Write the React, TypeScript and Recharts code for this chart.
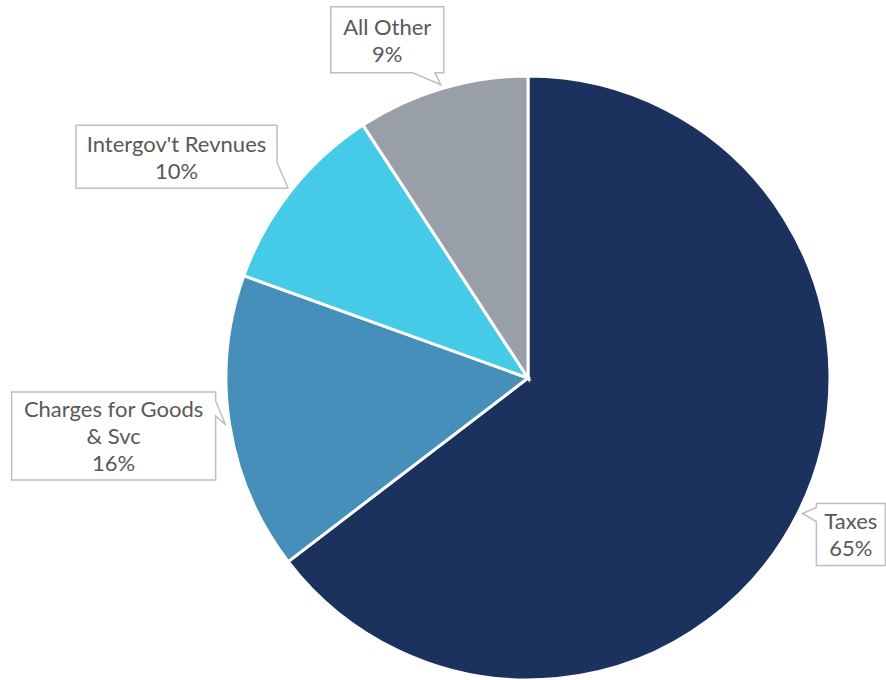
import React from "react";
import { PieChart, Pie, Cell } from "recharts";

const categories = ["Taxes", "Charges for Goods & Svc", "Intergov't Revnues", "All Other"];
const shares = [64.6, 15.9, 10.3, 9.2];
const labelLines = [["Taxes"], ["Charges for Goods", "& Svc"], ["Intergov't Revnues"], ["All Other"]];
const colors = ["#1b315e", "#458fba", "#45cae8", "#989fa9"];

const data = categories.map((name, i) => ({ name, value: shares[i] }));

// callout box placement relative to the tail tip, and where the tail meets the box
type Callout = { dx: number; dy: number; w: number; h: number; side: "left" | "right" | "bottom"; a: number; b: number };
const callouts: Callout[] = [
  { dx: 14, dy: -10, w: 69, h: 62, side: "left", a: 4, b: 18 },
  { dx: -214, dy: -33, w: 204, h: 88, side: "right", a: 9, b: 24 },
  { dx: -212, dy: -63, w: 201, h: 63, side: "right", a: 37, b: 63 },
  { dx: -110, dy: -78, w: 113, h: 66, side: "bottom", a: 82, b: 104 },
];

const RAD = Math.PI / 180;

function calloutPath(x: number, y: number, w: number, h: number, c: Callout, tx: number, ty: number) {
  const pts: [number, number][] = [[x, y], [x + w, y]];
  if (c.side === "right") {
    pts.push([x + w, y + c.a], [tx, ty], [x + w, y + c.b]);
  }
  pts.push([x + w, y + h]);
  if (c.side === "bottom") {
    pts.push([x + c.b, y + h], [tx, ty], [x + c.a, y + h]);
  }
  pts.push([x, y + h]);
  if (c.side === "left") {
    pts.push([x, y + c.b], [tx, ty], [x, y + c.a]);
  }
  return "M" + pts.map((p) => `${p[0]},${p[1]}`).join("L") + "Z";
}

const renderLabel = (props: any) => {
  const { cx, cy, midAngle, outerRadius, index } = props;
  const r = outerRadius + 4;
  const tx = cx + r * Math.cos(-midAngle * RAD);
  const ty = cy + r * Math.sin(-midAngle * RAD);
  const c = callouts[index];
  const x = tx + c.dx;
  const y = ty + c.dy;
  const lines = [...labelLines[index], `${Math.round(shares[index])}%`];
  const lineH = 27;
  const startY = y + c.h / 2 - ((lines.length - 1) * lineH) / 2;
  return (
    <g key={`lbl-${index}`}>
      <path d={calloutPath(x, y, c.w, c.h, c, tx, ty)} fill="#ffffff" stroke="#bfbfbf" strokeWidth={1.5} />
      {lines.map((l, i) => (
        <text
          key={i}
          x={x + c.w / 2}
          y={startY + i * lineH}
          textAnchor="middle"
          dominantBaseline="central"
          fill="#595959"
          fontSize={22}
          fontFamily="Lato, sans-serif"
        >
          {l}
        </text>
      ))}
    </g>
  );
};

export default function App() {
  return (
    <div style={{ position: "absolute", left: 0, top: 0, width: 886, height: 680, background: "#fff" }}>
      <PieChart width={886} height={680} margin={{ top: 0, right: 0, bottom: 0, left: 0 }}>
        <Pie
          data={data}
          dataKey="value"
          nameKey="name"
          cx={528}
          cy={378}
          outerRadius={302}
          startAngle={90}
          endAngle={-270}
          stroke="#ffffff"
          strokeWidth={3}
          label={renderLabel}
          labelLine={false}
          isAnimationActive={false}
        >
          {data.map((d, i) => (
            <Cell key={d.name} fill={colors[i]} />
          ))}
        </Pie>
      </PieChart>
    </div>
  );
}
